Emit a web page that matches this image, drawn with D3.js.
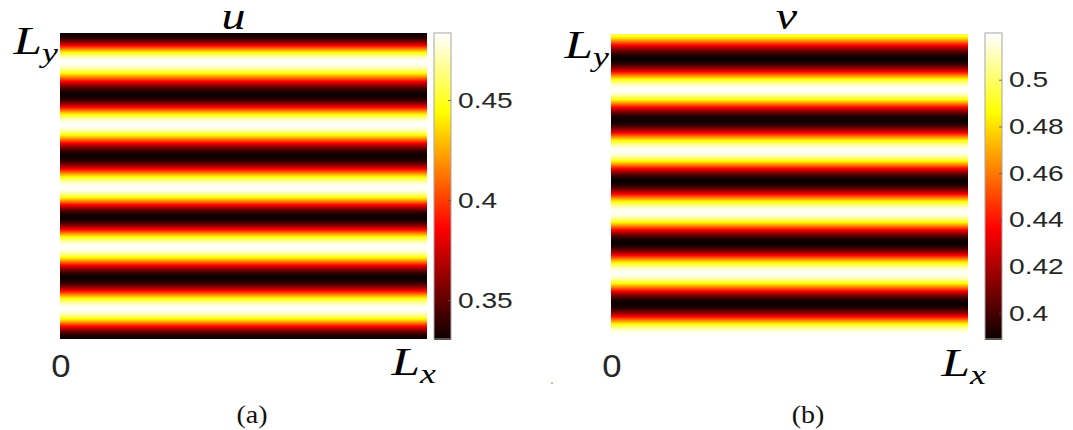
<!DOCTYPE html>
<html lang="en">
<head>
    <meta charset="UTF-8">
    <script src="https://d3js.org/d3.v7.min.js"></script>
    <style>
        body { margin: 0; background: #fff; }
        .tick text { font-family: "Liberation Sans", Arial, sans-serif; fill: #262626; }
    </style>
    <title>u and v stripes</title>
</head>
<body>
<div id="chart"></div>
<script>
    // knot positions (fraction of Ly, measured from the bottom) and the field value there
    var uKnotPos = [0, 0.099, 0.2, 0.301, 0.4, 0.496, 0.6, 0.703, 0.8, 0.908, 1.0];
    var uKnotVal = [0.331, 0.483, 0.331, 0.483, 0.331, 0.483, 0.331, 0.483, 0.331, 0.483, 0.331];
    var vKnotPos = [-0.097, 0.005, 0.107, 0.209, 0.310, 0.412, 0.514, 0.615, 0.717, 0.819, 0.920, 1.030];
    var vKnotVal = [0.389, 0.519, 0.389, 0.519, 0.389, 0.519, 0.389, 0.519, 0.389, 0.519, 0.389, 0.519];
    // colorbar limits and ticks
    var uRange = [0.3305, 0.4835];
    var vRange = [0.389, 0.520];
    var uTicks = [0.35, 0.4, 0.45];
    var vTicks = [0.4, 0.42, 0.44, 0.46, 0.48, 0.5];
    var uTickLabels = ["0.35", "0.4", "0.45"];
    var vTickLabels = ["0.4", "0.42", "0.44", "0.46", "0.48", "0.5"];

    var W = 1073, H = 430;
    var sx = 1.28; // the figure is stretched sideways
    var svg = d3.select("#chart").append("svg")
        .attr("width", W)
        .attr("height", H);

    // MATLAB "hot"
    var hot = d3.scaleLinear()
        .domain([0, 0.365, 0.746, 1])
        .range(["#0b0000", "#ff0000", "#ffff00", "#ffffff"])
        .interpolate(d3.interpolateRgb)
        .clamp(true);

    function profile(pos, val, f) {
        for (var i = 0; i < pos.length - 1; i++) {
            if (f >= pos[i] && f <= pos[i + 1]) {
                var t = (f - pos[i]) / (pos[i + 1] - pos[i]);
                return d3.interpolateNumber(val[i], val[i + 1])(d3.easeSinInOut(t));
            }
        }
        return val[val.length - 1];
    }

    function label(x, y, anchor, main, sub, opts) {
        var g = svg.append("g").attr("transform", "translate(" + x + "," + y + ") scale(" + (opts.sx || sx) + ",1)");
        var t = g.append("text")
            .attr("text-anchor", anchor)
            .attr("font-family", opts.family)
            .attr("font-style", opts.style || "normal")
            .attr("font-size", opts.size + "px")
            .attr("fill", opts.color || "#000");
        t.append("tspan").text(main);
        if (sub) {
            t.append("tspan")
                .attr("font-size", (opts.size * 0.7) + "px")
                .attr("dy", opts.subDy)
                .text(sub);
        }
        return g;
    }

    var serifMath = {family: "'Liberation Serif', 'Times New Roman', serif", style: "italic", size: 40, subDy: 8};

    function panel(p) {
        var xScale = d3.scaleLinear().domain([0, 1]).range([p.left, p.right]);
        var yScale = d3.scaleLinear().domain([0, 1]).range([p.bottom, p.top]);
        var color = d3.scaleLinear().domain(p.range).range([0, 1]);
        var n = Math.round(p.bottom - p.top);
        var rows = d3.range(n).map(function(i) {
            var f0 = i / n, f1 = (i + 1) / n;
            return {f0: f0, f1: f1, v: profile(p.pos, p.val, (f0 + f1) / 2)};
        });
        var g = svg.append("g");
        g.selectAll("rect.row").data(rows).enter().append("rect")
            .attr("class", "row")
            .attr("x", xScale(0))
            .attr("width", xScale(1) - xScale(0))
            .attr("y", function(d) { return yScale(d.f1); })
            .attr("height", function(d) { return yScale(d.f0) - yScale(d.f1) + 0.6; })
            .attr("shape-rendering", "crispEdges")
            .attr("fill", function(d) { return hot(color(d.v)); });

        // colorbar
        var cScale = d3.scaleLinear().domain(p.range).range([p.cbBottom, p.cbTop]);
        var cn = Math.round(p.cbBottom - p.cbTop);
        var cRows = d3.range(cn).map(function(i) {
            return p.range[0] + (p.range[1] - p.range[0]) * (i + 0.5) / cn;
        });
        var step = (p.range[1] - p.range[0]) / cn;
        var cb = svg.append("g");
        cb.selectAll("rect").data(cRows).enter().append("rect")
            .attr("x", p.cbLeft)
            .attr("width", p.cbRight - p.cbLeft)
            .attr("y", function(d) { return cScale(d + step / 2); })
            .attr("height", function(d) { return cScale(d - step / 2) - cScale(d + step / 2) + 0.6; })
            .attr("shape-rendering", "crispEdges")
            .attr("fill", function(d) { return hot(color(d)); });
        cb.append("rect")
            .attr("x", p.cbLeft).attr("y", p.cbTop)
            .attr("width", p.cbRight - p.cbLeft).attr("height", p.cbBottom - p.cbTop)
            .attr("fill", "none").attr("stroke", "#a6a6a6").attr("stroke-width", 1);
        var ax = svg.append("g")
            .attr("transform", "translate(" + p.cbRight + ",0)")
            .call(d3.axisRight(cScale).tickValues(p.ticks)
                .tickFormat(function(d, i) { return p.tickLabels[i]; })
                .tickSizeInner(-3).tickSizeOuter(0).tickPadding(7));
        ax.select(".domain").remove();
        ax.selectAll(".tick line").attr("stroke", "#555").attr("stroke-width", 0.8);
        ax.selectAll(".tick text")
            .attr("font-size", "22px")
            .attr("x", 7 / sx)
            .attr("transform", "scale(" + sx + ",1)");

        // labels
        label((p.left + p.right) / 2 + p.titleDx, p.titleY, "middle", p.title, null,
            {family: serifMath.family, style: "italic", size: 37, sx: 1.3});
        label(p.left - 2, p.lyY, "end", "L", "y", serifMath);
        label(xScale(1) + p.lxDx, p.lxY, "end", "L", "x", serifMath);
        label(xScale(0) + 1, 377, "middle", "0", null,
            {family: "'Liberation Sans', Arial, sans-serif", size: 31, color: "#262626", sx: 1.12});
        label(p.capX, 423, "middle", p.caption, null,
            {family: "'Liberation Serif', 'Times New Roman', serif", size: 25, color: "#111", sx: 1.12});
    }

    panel({left: 60, right: 427, top: 33, bottom: 338, pos: uKnotPos, val: uKnotVal,
        range: uRange, ticks: uTicks, tickLabels: uTickLabels,
        cbLeft: 434, cbRight: 451, cbTop: 33, cbBottom: 339,
        title: "u", titleY: 29, titleDx: -10, lyY: 54, lxY: 375, lxDx: 9, caption: "(a)", capX: 252});
    panel({left: 611, right: 968, top: 34, bottom: 335, pos: vKnotPos, val: vKnotVal,
        range: vRange, ticks: vTicks, tickLabels: vTickLabels,
        cbLeft: 985, cbRight: 1002, cbTop: 33, cbBottom: 339,
        title: "v", titleY: 29, titleDx: -3, lyY: 58, lxY: 376, lxDx: 18, caption: "(b)", capX: 808});

    // small stray speck in the original
    svg.append("rect").attr("x", 551).attr("y", 382).attr("width", 2).attr("height", 2)
        .attr("fill", "#c9c49a");
</script>
</body>
</html>
